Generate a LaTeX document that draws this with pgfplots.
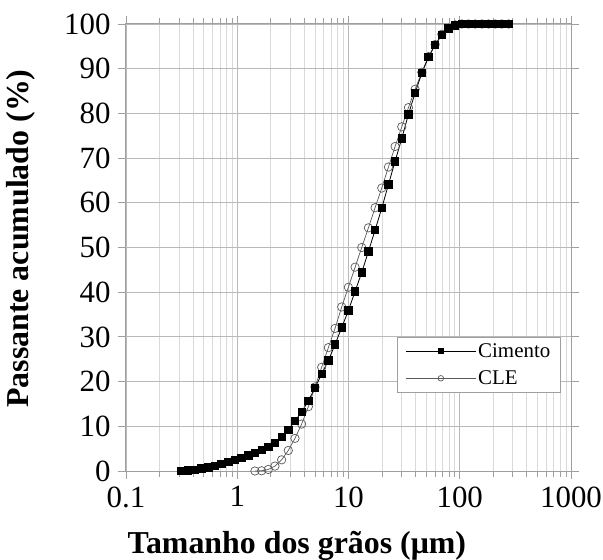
\documentclass[border=0pt]{standalone}
\usepackage{fontspec}
\setmainfont{Liberation Serif}
\usepackage{pgfplots}
\pgfplotsset{compat=1.18}

\pgfplotstableread{
x       y
0.3155  0
0.3622  0.1
0.4159  0.3
0.4775  0.55
0.5483  0.85
0.6295  1.2
0.7228  1.6
0.8299  2.0
0.9528  2.45
1.094   2.9
1.256   3.5
1.442   4.1
1.656   4.7
1.901   5.4
2.183   6.3
2.506   7.6
2.877   9.2
3.304   11.2
3.793   13.2
4.355   15.7
5.000   18.6
5.741   21.7
6.592   24.7
7.568   28.3
8.690   32.1
9.977   35.9
11.46   40.2
13.15   44.4
15.10   49.1
17.34   53.9
19.91   58.8
22.86   64.1
26.24   69.3
30.13   74.4
34.59   79.8
39.72   84.6
45.60   89.0
52.36   92.6
60.12   95.3
69.02   97.6
79.25   99.0
90.99   99.7
104.5   100
119.9   100
137.7   100
158.1   100
181.6   100
208.4   100
239.3   100
274.8   100
}\cimento

\pgfplotstableread{
x       y
1.442   0
1.656   0.05
1.901   0.35
2.183   1.1
2.506   2.5
2.877   4.6
3.304   7.3
3.793   10.5
4.355   14.4
5.000   18.8
5.741   23.2
6.592   27.6
7.568   31.9
8.690   36.7
9.977   41.1
11.46   45.6
13.15   50.0
15.10   54.4
17.34   58.9
19.91   63.3
22.86   68.0
26.24   72.6
30.13   77.0
34.59   81.3
39.72   85.4
45.60   89.2
52.36   92.7
60.12   95.4
69.02   97.7
79.25   99.1
90.99   99.8
104.5   100
119.9   100
137.7   100
158.1   100
181.6   100
208.4   100
239.3   100
274.8   100
}\cle

\begin{document}
\begin{tikzpicture}
\begin{axis}[
  scale only axis,
  width=445bp, height=447bp,
  xmode=log, log basis x=10,
  xmin=0.1, xmax=1000, ymin=0, ymax=100,
  xtick={0.1,1,10,100,1000},
  xticklabels={0.1,1,10,100,1000},
  minor xtick={0.2,0.3,0.4,0.5,0.6,0.7,0.8,0.9,
    2,3,4,5,6,7,8,9,20,30,40,50,60,70,80,90,
    200,300,400,500,600,700,800,900},
  ytick={0,10,...,100},
  /pgf/number format/assume math mode=true,
  xmajorgrids, xminorgrids, ymajorgrids,
  major grid style={draw=gray!55, line width=0.8bp},
  minor grid style={draw=gray!30, line width=0.8bp},
  axis line style={draw=gray!75, line width=1bp},
  tick style={draw=gray!75, line width=0.8bp},
  tick align=outside,
  major tick length=8bp, minor tick length=6bp,
  ticklabel style={font=\fontsize{31}{31}\selectfont},
  xticklabel style={yshift=-4bp},
  yticklabel style={xshift=-4bp},
  xlabel={\textbf{Tamanho dos grãos (μm)}},
  ylabel={\textbf{Passante acumulado (\%)}},
  label style={font=\fontsize{32}{32}\selectfont},
  xlabel style={at={(axis description cs:0.384,-0.184)}, anchor=base},
  ylabel style={at={(axis description cs:-0.218,0.52)}, anchor=base},
  legend style={at={(axis cs:27.3,30)}, anchor=north west,
    draw=gray!75, line width=0.8bp, fill=white,
    font=\fontsize{21}{23}\selectfont,
    inner xsep=8bp, inner ysep=4bp, row sep=8bp},
  legend cell align=left,
  legend image code/.code={
    \draw[#1, mark size=2.8bp, mark repeat=2, mark phase=2]
      plot coordinates {(0bp,0bp) (35bp,0bp) (70bp,0bp)};},
  reverse legend,
]
\addplot[gray!70!black, line width=0.7bp, mark=o,
  mark size=4.2bp, mark options={draw=black!65, fill=white, line width=0.7bp}]
  table[x=x, y=y] {\cle};
\addlegendentry{CLE}
\addplot[black, line width=0.8bp, mark=square*,
  mark size=3.7bp, mark options={fill=black}]
  table[x=x, y=y] {\cimento};
\addlegendentry{Cimento}
\end{axis}
\pgfresetboundingbox
\path ([shift={(-126bp,-89bp)}]current axis.south west)
  rectangle ([shift={(32bp,24bp)}]current axis.north east);
\end{tikzpicture}
\end{document}
